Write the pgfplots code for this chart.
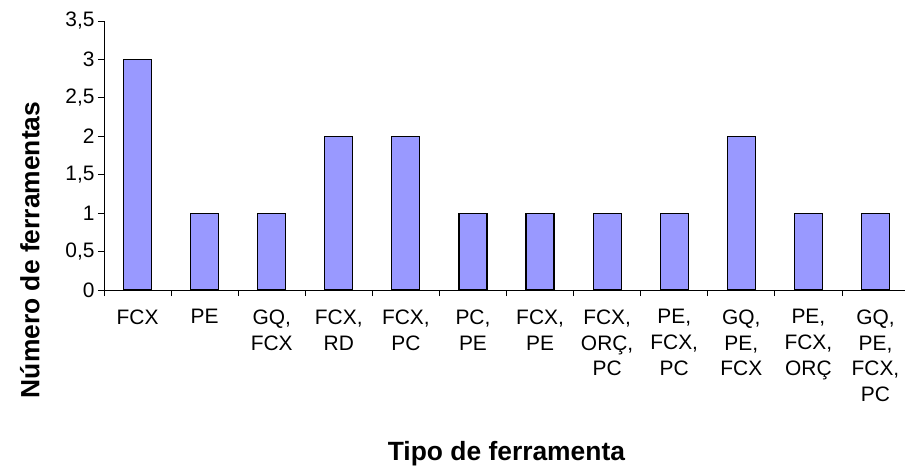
\documentclass[border=0pt]{standalone}
\usepackage{pgfplots}
\pgfplotsset{compat=1.18}
\usepackage{fontspec}
\setmainfont{Liberation Sans}
\definecolor{barblue}{HTML}{9999FF}
\begin{document}
\begin{tikzpicture}
\begin{axis}[
  at={(0,0)}, anchor=south west,
  scale only axis,
  width=805bp, height=269bp,
  xmin=-0.5, xmax=11.5,
  ymin=0, ymax=3.5,
  axis lines=left,
  axis line style={-, line width=0.8pt},
  tick align=outside,
  ytick={0,0.5,...,3.5},
  xtick={0,...,11},
  xticklabels={FCX, PE, {GQ,\\FCX}, {FCX,\\RD}, {FCX,\\PC}, {PC,\\PE}, {FCX,\\PE}, {FCX,\\ORÇ,\\PC}, {PE,\\FCX,\\PC}, {GQ,\\PE,\\FCX}, {PE,\\FCX,\\ORÇ}, {GQ,\\PE,\\FCX,\\PC}},
  minor xtick={-0.5,0.5,...,11.5},
  major x tick style={draw=none},
  minor x tick style={black, line width=0.8pt},
  minor tick length=6bp,
  major tick length=6bp,
  y tick style={black, line width=0.8pt},
  xticklabel style={align=center, anchor=north, yshift=-10bp, font=\fontsize{21}{26}\selectfont},
  yticklabel style={font=\fontsize{21}{24}\selectfont},
  /pgf/number format/assume math mode=true,
  /pgf/number format/use comma,
  /pgf/number format/fixed,
  /pgf/number format/precision=1,
  ylabel={\textbf{Número de ferramentas}},
  ylabel style={at={(axis description cs:-0.092,0.149)}, anchor=center, font=\fontsize{26.5}{30}\selectfont},
  xlabel={\textbf{Tipo de ferramenta}},
  xlabel style={at={(axis description cs:0.5,-0.61)}, anchor=center, font=\fontsize{26.5}{30}\selectfont},
  clip=false,
]
\addplot[ybar, bar width=28bp, fill=barblue, draw=black, line width=1.2pt] coordinates {
(0,3) (1,1) (2,1) (3,2) (4,2) (5,1) (6,1) (7,1) (8,1) (9,2) (10,1) (11,1)
};
\end{axis}
\pgfresetboundingbox
\path (-104bp,-185bp) rectangle (801bp,290bp);
\end{tikzpicture}
\end{document}
